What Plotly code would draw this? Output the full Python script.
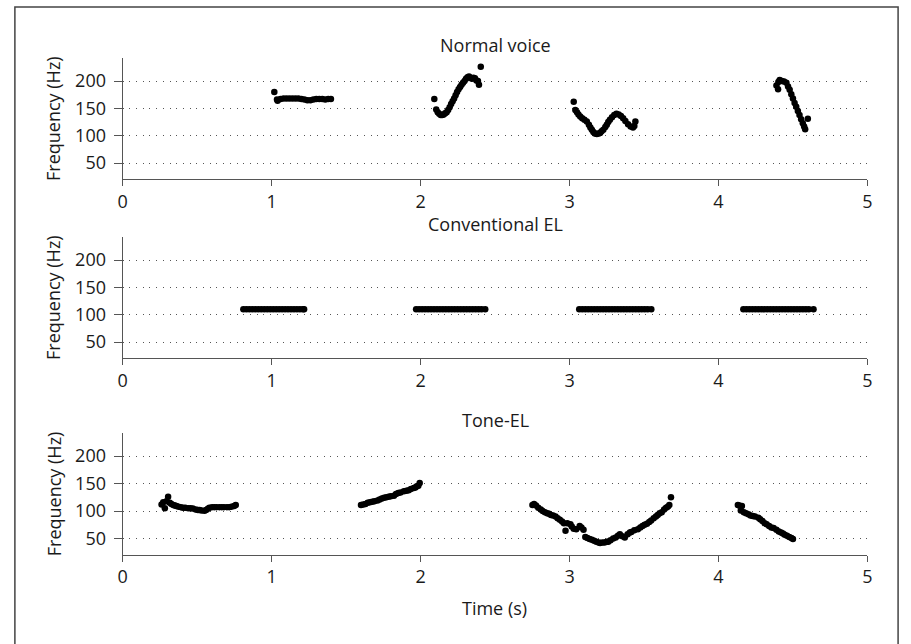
import plotly.graph_objects as go

# ---------------- data ----------------
panel_titles = ["Normal voice", "Conventional EL", "Tone-EL"]
x_ticks = [0, 1, 2, 3, 4, 5]
y_ticks = [50, 100, 150, 200]

normal_t = [1.018, 1.036, 1.04, 1.06, 1.08, 1.10, 1.12, 1.14, 1.16, 1.18, 1.20, 1.22, 1.24, 1.26,
            1.28, 1.30, 1.32, 1.34, 1.36, 1.38, 1.398,
            2.092, 2.105, 2.115, 2.125, 2.135, 2.145, 2.155, 2.165, 2.175, 2.185, 2.195, 2.205,
            2.215, 2.225, 2.235, 2.245, 2.255, 2.265, 2.275, 2.285, 2.295, 2.305, 2.315, 2.325,
            2.335, 2.345, 2.355, 2.365, 2.375, 2.385, 2.392, 2.404,
            3.028, 3.039, 3.05, 3.06, 3.072, 3.085, 3.10, 3.116, 3.13, 3.14, 3.15, 3.16, 3.17,
            3.183, 3.195, 3.205, 3.215, 3.227, 3.24, 3.25, 3.26, 3.271, 3.285, 3.30, 3.315, 3.33,
            3.345, 3.36, 3.375, 3.393, 3.41, 3.426, 3.435, 3.442,
            4.389, 4.400, 4.402, 4.411, 4.425, 4.44, 4.456, 4.467, 4.478, 4.489, 4.50, 4.511,
            4.522, 4.533, 4.544, 4.555, 4.566, 4.575, 4.582, 4.600]
normal_f = [180, 166, 164, 167, 168, 168, 168, 168, 168, 168, 167, 166, 165, 165,
            166, 167, 167, 167, 166, 167, 167,
            167, 148, 143, 140, 138, 138, 139, 141, 143, 147, 152, 158,
            163, 168, 174, 180, 185, 189, 193, 197, 200, 204, 207, 208,
            206, 204, 206, 205, 201, 200, 193, 226,
            162, 147, 143, 139, 135, 132, 129, 126, 120, 115, 111, 107, 104,
            103, 104, 105, 108, 111, 116, 120, 125, 129, 134, 138, 140, 139,
            136, 132, 127, 121, 117, 115, 118, 126,
            192, 185, 198, 202, 200, 199, 197, 190, 184, 176, 168, 160,
            153, 145, 138, 130, 123, 117, 112, 131]

conv_t = [0.81, 0.83, 0.85, 0.87, 0.89, 0.91, 0.93, 0.95, 0.97, 0.99, 1.01, 1.03, 1.05, 1.07,
          1.09, 1.11, 1.13, 1.15, 1.17, 1.19, 1.21, 1.218,
          1.97, 1.99, 2.01, 2.03, 2.05, 2.07, 2.09, 2.11, 2.13, 2.15, 2.17, 2.19, 2.21, 2.23,
          2.25, 2.27, 2.29, 2.31, 2.33, 2.35, 2.37, 2.39, 2.41, 2.434,
          3.065, 3.085, 3.105, 3.125, 3.145, 3.165, 3.185, 3.205, 3.225, 3.245, 3.265, 3.285,
          3.305, 3.325, 3.345, 3.365, 3.385, 3.405, 3.425, 3.445, 3.465, 3.485, 3.505, 3.525,
          3.549,
          4.167, 4.187, 4.207, 4.227, 4.247, 4.267, 4.287, 4.307, 4.327, 4.347, 4.367, 4.387,
          4.407, 4.427, 4.447, 4.467, 4.487, 4.507, 4.527, 4.547, 4.567, 4.587, 4.607, 4.638]
conv_f = [110] * 22 + [110] * 24 + [110] * 25 + [110] * 24

tone_t = [0.261, 0.272, 0.283, 0.294, 0.305, 0.316, 0.327, 0.34, 0.35, 0.361, 0.375, 0.39,
          0.405, 0.42, 0.44, 0.455, 0.471, 0.49, 0.505, 0.516, 0.53, 0.549, 0.56, 0.572,
          0.582, 0.60, 0.615, 0.63, 0.649, 0.665, 0.68, 0.70, 0.715, 0.73, 0.748, 0.759,
          1.60, 1.615, 1.63, 1.645, 1.66, 1.675, 1.69, 1.711, 1.725, 1.74, 1.755, 1.77,
          1.785, 1.80, 1.821, 1.835, 1.85, 1.865, 1.888, 1.905, 1.92, 1.935, 1.954, 1.965,
          1.975, 1.985, 1.994,
          2.751, 2.762, 2.775, 2.79, 2.807, 2.82, 2.835, 2.85, 2.862, 2.875, 2.89, 2.906,
          2.92, 2.935, 2.95, 2.962, 2.973, 2.985, 3.006, 3.015, 3.028, 3.045, 3.068, 3.08,
          3.094, 3.106, 3.12, 3.135, 3.15, 3.165, 3.18, 3.195, 3.205, 3.22, 3.235, 3.25,
          3.26, 3.275, 3.293, 3.31, 3.325, 3.338, 3.355, 3.371, 3.39, 3.405, 3.415, 3.435,
          3.459, 3.475, 3.49, 3.504, 3.52, 3.535, 3.548, 3.565, 3.58, 3.592, 3.605, 3.619,
          3.635, 3.648, 3.66, 3.670, 3.681,
          4.130, 4.14, 4.157, 4.150, 4.17, 4.185, 4.201, 4.215, 4.23, 4.245, 4.268, 4.28,
          4.295, 4.31, 4.323, 4.34, 4.355, 4.37, 4.389, 4.405, 4.42, 4.433, 4.445, 4.46,
          4.475, 4.49, 4.50]
tone_f = [112, 116, 105, 118, 126, 115, 113, 111, 110, 109, 108, 107,
          106, 106, 105, 105, 104.5, 103, 102, 102, 101, 100.5, 102, 104,
          106, 107, 107, 107, 107, 107, 107, 107, 107, 108, 109, 111,
          111, 112, 113, 115, 116, 117, 118, 119, 121, 123, 124, 125,
          126, 127, 128, 131, 133, 134, 136, 137, 138, 140, 142, 143,
          145, 146, 151,
          111, 113, 110, 106, 103, 100, 98, 96, 95, 93, 92, 90,
          87, 84, 81, 78, 64, 78, 76, 72, 68, 67, 73, 70,
          66, 53, 51, 49, 48, 46, 44, 43, 42, 43, 43, 44,
          44, 47, 50, 52, 55, 58, 54, 52, 58, 61, 62, 65,
          67, 70, 73, 75, 77, 80, 83, 87, 90, 93, 96, 98,
          103, 106, 108, 111, 125,
          111, 110, 109, 101, 98, 96, 94, 92, 91, 90, 88, 85,
          82, 78, 76, 73, 70, 69, 66, 63, 61, 59, 57, 55,
          53, 51, 49]

series = [(normal_t, normal_f), (conv_t, conv_f), (tone_t, tone_f)]

# ---------------- layout geometry (pixels) ----------------
W, H = 911, 644
x_left, x_right = 119, 872
panels_px = [(58, 179), (237, 358), (433, 554.5)]  # (top, bottom)
FONT = "Open Sans"
FS = 18
TXT = "#1a1a1a"
AXIS_COLOR = "#555555"

fig = go.Figure()
layout = dict(
    width=W, height=H,
    margin=dict(l=0, r=0, t=0, b=0),
    paper_bgcolor="white", plot_bgcolor="white",
    showlegend=False,
    font=dict(family=FONT, size=FS, color=TXT),
)
annotations = []

for i, ((t, f), (top, bot)) in enumerate(zip(series, panels_px)):
    n = "" if i == 0 else str(i + 1)
    fig.add_trace(go.Scatter(
        x=t, y=f, mode="markers", xaxis="x" + n, yaxis="y" + n,
        marker=dict(color="black", size=6.5, line=dict(width=0)),
    ))
    layout["xaxis" + n] = dict(
        domain=[x_left / W, x_right / W], anchor="y" + n,
        range=[0, 5], tickvals=x_ticks, ticks="outside", ticklen=6,
        tickcolor=AXIS_COLOR, showline=True, linecolor=AXIS_COLOR, linewidth=1.2,
        showgrid=False, zeroline=False, tickfont=dict(size=FS, family=FONT, color=TXT),
    )
    layout["yaxis" + n] = dict(
        domain=[1 - bot / H, 1 - top / H], anchor="x" + n,
        range=[21, 242], tickvals=y_ticks, ticks="outside", ticklen=8,
        ticklabelstandoff=4,
        tickcolor=AXIS_COLOR, showline=True, linecolor=AXIS_COLOR, linewidth=1.2,
        showgrid=True, gridcolor="#555555", gridwidth=1, griddash="1px,5.7px",
        zeroline=False, tickfont=dict(size=FS, family=FONT, color=TXT),
    )
    annotations.append(dict(
        text=panel_titles[i], xref="paper", yref="paper",
        x=(x_left + x_right) / 2 / W, y=1 - (top - 13.5) / H,
        xanchor="center", yanchor="middle", showarrow=False,
        font=dict(size=FS, family=FONT, color=TXT),
    ))
    annotations.append(dict(
        text="Frequency (Hz)", xref="paper", yref="paper",
        x=49 / W, y=1 - (top + bot) / 2 / H, textangle=-90,
        xanchor="center", yanchor="middle", showarrow=False,
        font=dict(size=FS, family=FONT, color=TXT),
    ))

annotations.append(dict(
    text="Time (s)", xref="paper", yref="paper",
    x=494.5 / W, y=1 - 608 / H, xanchor="center", yanchor="middle", showarrow=False,
    font=dict(size=FS, family=FONT, color=TXT),
))
layout["annotations"] = annotations
layout["shapes"] = [dict(
    type="rect", xref="paper", yref="paper",
    x0=10 / W, x1=903 / W, y0=-0.02, y1=1 - 7 / H,
    line=dict(color="#444444", width=1.5), fillcolor="rgba(0,0,0,0)",
)]
fig.update_layout(**layout)
fig.write_html(
    "out.html",
    config={"displayModeBar": False},
    post_script="document.body.style.margin='0px';document.body.style.overflow='hidden';",
)
